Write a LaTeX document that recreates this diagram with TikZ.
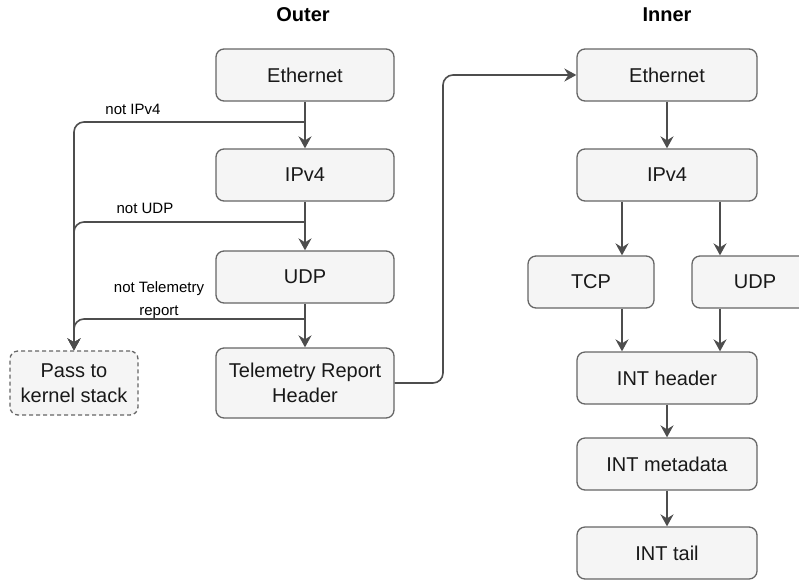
\documentclass[tikz,border=0pt]{standalone}
\usepackage{fontspec}
\setmainfont{Liberation Sans}
\usetikzlibrary{arrows.meta}
\definecolor{boxfill}{HTML}{F5F5F5}
\definecolor{boxline}{HTML}{666666}
\definecolor{wire}{HTML}{4D4D4D}
\begin{document}
\begin{tikzpicture}[x=1pt,y=-1pt,
  box/.style={draw=boxline, fill=boxfill, line width=1.3pt, rounded corners=8pt,
    inner sep=0pt, align=center, text=black!90,
    font=\fontsize{20}{25}\selectfont},
  wide/.style={box, minimum width=178pt, minimum height=52pt},
  small/.style={box, minimum width=126pt, minimum height=52pt},
  passbox/.style={box, dashed, dash pattern=on 4pt off 3pt, minimum width=128pt, minimum height=64pt},
  title/.style={font=\bfseries\fontsize{20}{24}\selectfont, inner sep=0pt},
  lbl/.style={font=\fontsize{15}{18}\selectfont, inner sep=0pt, anchor=base},
  conn/.style={draw=wire, line width=1.6pt, rounded corners=10pt},
  arr/.style={conn, -{Stealth[length=12pt,width=13pt,inset=4pt]}},
]
\useasboundingbox (0,0) rectangle (799,579);
\clip (0,0) rectangle (799,579);

% column titles
\node[title] (touter) at (303,15) {Outer};
\node[title] (tinner) at (667,15) {Inner};

% outer headers
\node[wide] (eth1) at (305,75)  {Ethernet};
\node[wide] (ip1)  at (305,175) {IPv4};
\node[wide] (udp1) at (305,277) {UDP};
\node[wide, minimum height=70pt] (tel) at (305,383) {Telemetry Report\\Header};
\node[passbox] (pass) at (74,383) {Pass to\\kernel stack};

% inner headers
\node[wide, minimum width=180pt] (eth2) at (667,75)  {Ethernet};
\node[wide, minimum width=180pt] (ip2)  at (667,175) {IPv4};
\node[small] (tcp)  at (591,282) {TCP};
\node[small] (udp2) at (755,282) {UDP};
\node[wide, minimum width=180pt] (hdr)  at (667,378) {INT header};
\node[wide, minimum width=180pt] (meta) at (667,464) {INT metadata};
\node[wide, minimum width=180pt] (tail) at (667,553) {INT tail};

% outer chain
\draw[arr] (eth1) -- (ip1);
\draw[arr] (ip1) -- (udp1);
\draw[arr] (udp1) -- (tel);

% fall-through branches to the kernel stack
\coordinate (b1) at (305,122);
\coordinate (b2) at (305,222);
\coordinate (b3) at (305,319);
\draw[arr] (b1) -| (pass.north);
\draw[arr] (b2) -| (pass.north);
\draw[arr] (b3) -| (pass.north);
\node[lbl] (l1) at (133,114) {not IPv4};
\node[lbl] (l2) at (145,213) {not UDP};
\node[lbl] (l3) at (159,292.5) {not Telemetry};
\node[lbl] (l4) at (159,315) {report};

% outer payload continues into the inner packet
\coordinate (jx) at (443,0);
\draw[arr] (tel.east) -- (tel.east -| jx) -- (jx |- eth2.west) -- (eth2.west);

% inner chain
\coordinate (cl) at (622,0);
\coordinate (cr) at (720,0);
\draw[arr] (eth2) -- (ip2);
\draw[arr] (ip2.south -| cl) -- (tcp.north -| cl);
\draw[arr] (ip2.south -| cr) -- (udp2.north -| cr);
\draw[arr] (tcp.south -| cl) -- (hdr.north -| cl);
\draw[arr] (udp2.south -| cr) -- (hdr.north -| cr);
\draw[arr] (hdr) -- (meta);
\draw[arr] (meta) -- (tail);
\end{tikzpicture}
\end{document}
